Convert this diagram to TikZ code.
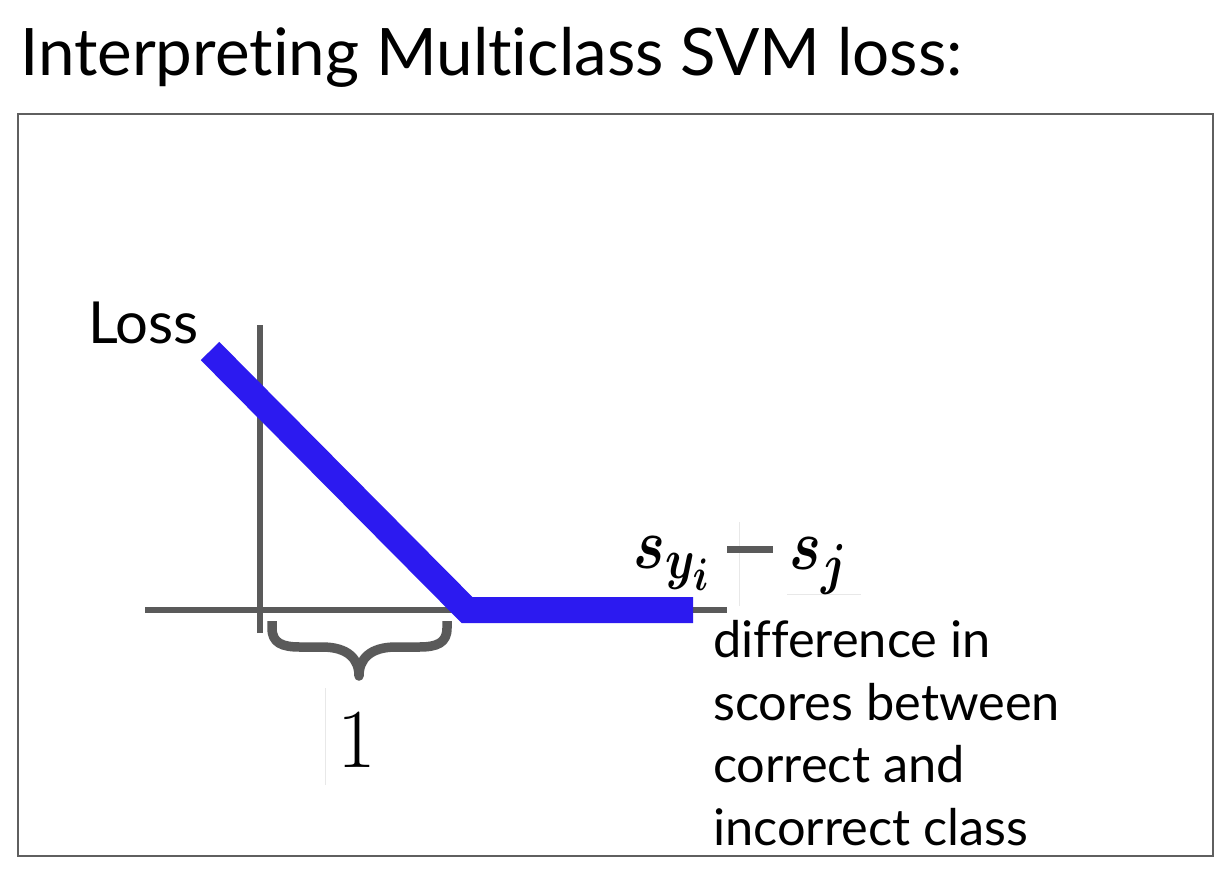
\RequirePackage{fix-cm}
\documentclass[tikz,border=0pt]{standalone}
\usepackage{fontspec}
\usepackage{amsmath}
\usepackage{bm}
\setmainfont{Lato}[Ligatures=NoCommon]
\DeclareMathSizes{60}{60}{47}{38}
\definecolor{hingeblue}{RGB}{44,26,240}
\definecolor{axisgray}{RGB}{90,90,90}
\definecolor{framegray}{RGB}{95,95,95}
\definecolor{faint}{RGB}{232,232,232}
\begin{document}
\begin{tikzpicture}[x=1pt,y=-1pt,
  axis/.style={draw=axisgray,line width=6pt},
  hinge/.style={draw=hingeblue,line width=26pt,line join=miter},
  bracestyle/.style={draw=axisgray,line width=9.5pt,line join=round},
  txt/.style={inner sep=0pt,anchor=base west},
  mathlbl/.style={inner sep=0pt,anchor=base west,font=\fontsize{60}{66}\selectfont},
  artifact/.style={draw=faint,line width=1pt}]
\path[fill=white] (0,0) rectangle (1225,868);
\useasboundingbox (0,0) rectangle (1225,868);
% title
\node[txt,font=\fontsize{65.5}{70}\selectfont] (title) at (20,75) {Interpreting Multiclass SVM loss:};
% frame
\draw[framegray,line width=2pt] (18,114) rectangle (1213,856);
% faint scan artifacts
\draw[artifact] (325,688) -- (325,785);
\draw[artifact] (739,522) -- (739,606);
\draw[artifact] (787,594) -- (861,594);
% axes
\coordinate (yb) at (260,633);
\coordinate (yt) at (260,325);
\coordinate (xl) at (145,610);
\coordinate (xr) at (727,610);
\draw[axis] (yb) -- (yt);
\draw[axis] (xl) -- (xr);
% hinge
\coordinate (h0) at (210,351);
\coordinate (h1) at (467,610);
\coordinate (h2) at (693,610);
\draw[hinge] (h0) -- (h1) -- (h2);
% brace
\draw[bracestyle] (272,621) -- (272,628) .. controls (272,643) and (282,647) .. (300,647)
  -- (322,647) .. controls (348,647) and (359,659) .. (359,676)
  .. controls (359,659) and (370,647) .. (396,647)
  -- (419,647) .. controls (437,647) and (447,643) .. (447,628) -- (447,621);
% labels
\node[txt,font=\fontsize{58}{64}\selectfont] (loss) at (88,343) {Loss};
\node[inner sep=0pt,anchor=base,font=\fontsize{84}{90}\selectfont] (one) at (357,767) {$1$};
\node[mathlbl] (syi) at (633,568) {\scalebox{1}[1.2]{$\bm{s_{y_i}}$}};
\node[mathlbl] (sj) at (789,569) {\scalebox{1}[1.2]{$\bm{s_j}$}};
\coordinate (mL) at (727,549);
\coordinate (mR) at (773,549);
\draw[axisgray,line width=7pt] (mL) -- (mR);
\node[txt,align=left,font=\fontsize{50.5}{62.5}\selectfont] (desc) at (713,845) {difference in\\scores between\\correct and\\incorrect class};
\end{tikzpicture}
\end{document}
